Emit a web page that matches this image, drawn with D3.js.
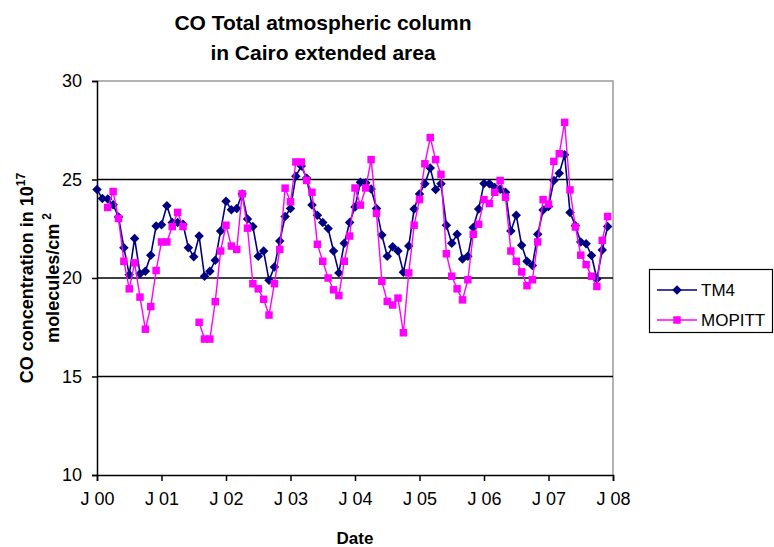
<!DOCTYPE html>
<html>
<head>
<meta charset="utf-8">
<script src="https://cdn.jsdelivr.net/npm/d3@7/dist/d3.min.js"></script>
<style>
  html, body { margin: 0; padding: 0; background: #fff; }
  svg { display: block; font-family: "Liberation Sans", Arial, sans-serif; }
</style>
</head>
<body>
<svg id="chart" width="774" height="547"></svg>
<script>
// Monthly CO total column, Jan 2000 – Dec 2007 (units of 10^17 molecules/cm^2)
const seriesNames = ["TM4", "MOPITT"];

const tm4 = [
  24.49, 24.04, 24.01, 23.72, 23.10, 21.54, 20.17, 22.01, 20.22, 20.34, 21.16, 22.64,
  22.70, 23.67, 22.82, 22.82, 22.73, 21.54, 21.08, 22.13, 20.09, 20.34, 20.90, 22.39,
  23.90, 23.46, 23.53, 24.27, 22.99, 22.61, 21.11, 21.37, 19.88, 20.56, 21.88, 23.12,
  23.53, 25.17, 25.68, 25.07, 23.70, 23.19, 22.82, 22.51, 21.37, 20.26, 21.76, 22.82,
  23.60, 24.86, 24.83, 24.52, 23.53, 22.18, 21.11, 21.59, 21.37, 20.29, 21.62, 23.50,
  24.27, 24.78, 25.58, 24.49, 24.78, 22.68, 21.76, 22.22, 20.97, 21.11, 22.56, 23.50,
  24.80, 24.78, 24.60, 24.50, 24.35, 22.39, 23.19, 21.66, 20.85, 20.63, 22.22, 23.45,
  23.63, 24.95, 25.32, 26.26, 23.33, 22.65, 21.83, 21.74, 21.14, 19.95, 21.42, 22.61
];

// null marks months without satellite retrievals
const mopitt = [
  null,  null,  23.58, 24.39, 23.02, 20.85, 19.45, 20.77, 19.03, 17.40, 18.55, 20.38,
  21.83, 21.83, 22.61, 23.33, 22.61, null,  null,  17.75, 16.90, 16.90, 18.80, 21.37,
  22.68, 21.62, 21.45, 24.27, 22.53, 19.71, 19.45, 18.92, 18.12, 19.71, 21.45, 24.56,
  23.87, 25.89, 25.89, 24.95, 24.35, 21.71, 20.85, 20.00, 19.40, 19.11, 20.85, 22.13,
  24.57, 23.70, 24.57, 26.01, 23.28, 19.83, 18.81, 18.63, 18.98, 17.22, 20.26, 22.68,
  23.98, 25.80, 27.13, 26.01, 25.26, 21.23, 20.09, 19.45, 18.89, 19.91, 22.22, 22.73,
  23.98, 23.78, 24.35, 24.95, 24.10, 21.37, 20.85, 20.31, 19.61, 19.91, 21.83, 23.98,
  23.75, 25.92, 26.31, 27.90, 24.47, 22.59, 21.16, 20.68, 20.09, 19.57, 21.91, 23.12
];

const xTickLabels = ["J 00", "J 01", "J 02", "J 03", "J 04", "J 05", "J 06", "J 07", "J 08"];
const yTicks = [10, 15, 20, 25, 30];
const gridValues = [15, 20, 25];

const titleLines = ["CO Total atmospheric column", "in Cairo extended area"];
const xTitle = "Date";

const svg = d3.select("#chart");
const plot = { left: 97, right: 613, top: 81, bottom: 475 };

const x = d3.scaleLinear().domain([0, 96]).range([plot.left, plot.right]);
const y = d3.scaleLinear().domain([10, 30]).range([plot.bottom, plot.top]);

// plot area frame (top and right edges grey)
svg.append("path")
  .attr("d", `M${plot.left},${plot.top}H${plot.right}V${plot.bottom}`)
  .attr("fill", "none").attr("stroke", "#9a9a9a").attr("stroke-width", 1.5);

// horizontal gridlines
svg.append("g").selectAll("line").data(gridValues).join("line")
  .attr("x1", plot.left).attr("x2", plot.right)
  .attr("y1", d => y(d)).attr("y2", d => y(d))
  .attr("stroke", "#000").attr("stroke-width", 1.5);

// y axis
const yAxis = d3.axisLeft(y).tickValues(yTicks).tickSize(5).tickPadding(10).tickFormat(d3.format("d"));
const gy = svg.append("g").attr("transform", `translate(${plot.left},0)`).call(yAxis);
gy.select(".domain").attr("stroke", "#000").attr("stroke-width", 1.5);
gy.selectAll(".tick line").attr("stroke", "#000").attr("stroke-width", 1.5);
gy.selectAll(".tick text").attr("font-size", 18).attr("fill", "#000")
  .attr("font-family", "Liberation Sans, Arial, sans-serif");

// x axis
const xAxis = d3.axisBottom(x).tickValues(d3.range(0, 97, 12)).tickSize(6).tickPadding(11)
  .tickFormat((d, i) => xTickLabels[i]);
const gx = svg.append("g").attr("transform", `translate(0,${plot.bottom})`).call(xAxis);
gx.select(".domain").attr("stroke", "#000").attr("stroke-width", 1.5);
gx.selectAll(".tick line").attr("stroke", "#000").attr("stroke-width", 1.5);
gx.selectAll(".tick text").attr("font-size", 18).attr("fill", "#000")
  .attr("font-family", "Liberation Sans, Arial, sans-serif");

// series
const line = d3.line().defined(d => d != null).x((d, i) => x(i)).y(d => y(d));

function drawSeries(values, color, width, symbolType, size) {
  const g = svg.append("g");
  g.append("path").datum(values).attr("d", line)
    .attr("fill", "none").attr("stroke", color).attr("stroke-width", width)
    .attr("stroke-linejoin", "round");
  const pts = values.map((v, i) => ({ v, i })).filter(p => p.v != null);
  g.selectAll("path.pt").data(pts).join("path").attr("class", "pt")
    .attr("transform", p => `translate(${x(p.i)},${y(p.v)})`)
    .attr("d", d3.symbol().type(symbolType).size(size))
    .attr("fill", color);
}

const diamond = {
  draw(ctx, size) {
    const r = Math.sqrt(size) / 2;
    ctx.moveTo(0, -r); ctx.lineTo(r, 0); ctx.lineTo(0, r); ctx.lineTo(-r, 0); ctx.closePath();
  }
};

drawSeries(tm4, "#000080", 1.6, diamond, 90);
drawSeries(mopitt, "#ff00ff", 1.4, d3.symbolSquare, 56);

// title
svg.append("text").attr("x", 323).attr("y", 30).attr("text-anchor", "middle")
  .attr("font-size", 21).attr("font-weight", "bold").text(titleLines[0]);
svg.append("text").attr("x", 323).attr("y", 60).attr("text-anchor", "middle")
  .attr("font-size", 21).attr("font-weight", "bold").text(titleLines[1]);

// x axis title
svg.append("text").attr("x", (plot.left + plot.right) / 2).attr("y", 544)
  .attr("text-anchor", "middle").attr("font-size", 17).attr("font-weight", "bold").text(xTitle);

// y axis title (two lines with superscripts)
const yMid = (plot.top + plot.bottom) / 2;
const yt1 = svg.append("text").attr("transform", `translate(33,${yMid}) rotate(-90)`)
  .attr("text-anchor", "middle").attr("font-size", 18).attr("font-weight", "bold");
yt1.append("tspan").text("CO concentration in 10");
yt1.append("tspan").attr("dy", -8).attr("font-size", 12).text("17");
const yt2 = svg.append("text").attr("transform", `translate(59,${yMid}) rotate(-90)`)
  .attr("text-anchor", "middle").attr("font-size", 18).attr("font-weight", "bold");
yt2.append("tspan").text("molecules/cm");
yt2.append("tspan").attr("dy", -8).attr("dx", 4).attr("font-size", 12).text("2");

// legend
const legend = svg.append("g");
legend.append("rect").attr("x", 649.5).attr("y", 269.5).attr("width", 123).attr("height", 63)
  .attr("fill", "#fff").attr("stroke", "#000").attr("stroke-width", 1.2);
const legendItems = [
  { name: seriesNames[0], color: "#000080", width: 1.6, sym: diamond, size: 90 },
  { name: seriesNames[1], color: "#ff00ff", width: 1.4, sym: d3.symbolSquare, size: 56 }
];
legendItems.forEach((it, k) => {
  const ly = 290 + k * 30;
  legend.append("line").attr("x1", 657).attr("x2", 697).attr("y1", ly).attr("y2", ly)
    .attr("stroke", it.color).attr("stroke-width", it.width);
  legend.append("path").attr("transform", `translate(677,${ly})`)
    .attr("d", d3.symbol().type(it.sym).size(it.size)).attr("fill", it.color);
  legend.append("text").attr("x", 701).attr("y", ly + 6).attr("font-size", 17)
    .attr("fill", "#000").text(it.name);
});
</script>
</body>
</html>
